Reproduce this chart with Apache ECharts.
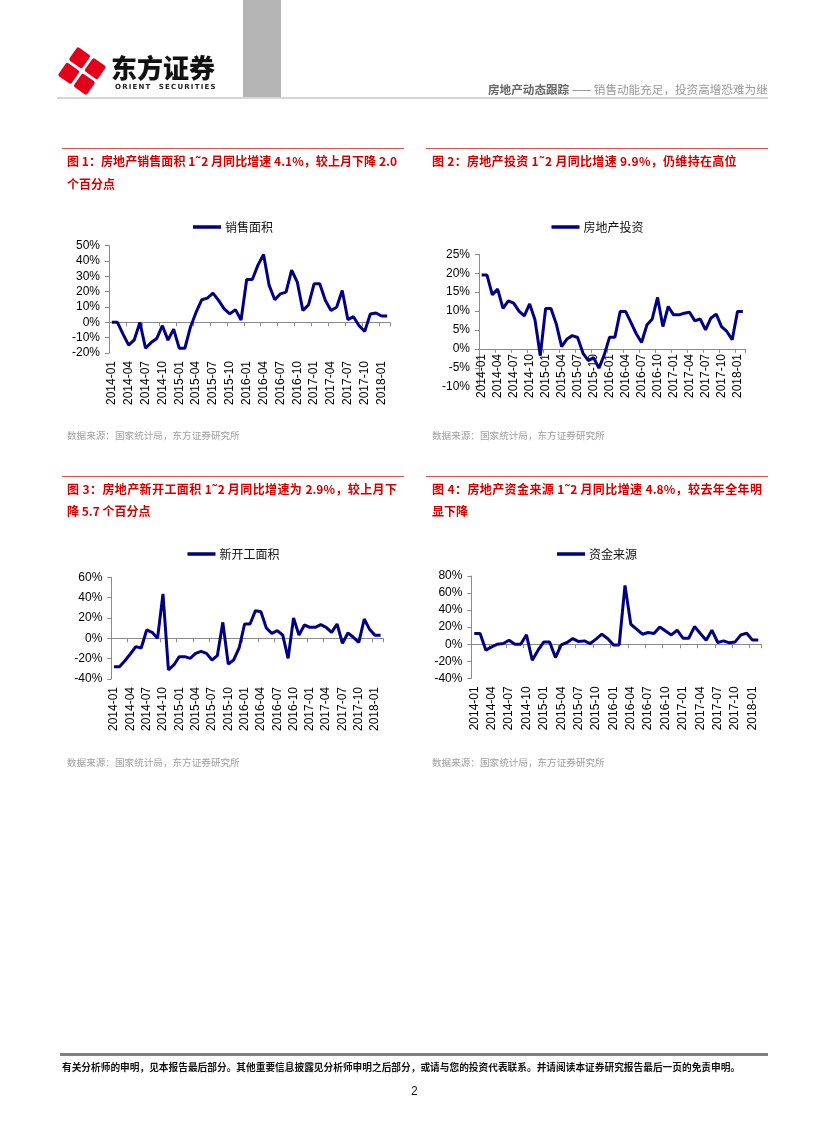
<!DOCTYPE html>
<html><head><meta charset="utf-8">
<script src="https://cdn.jsdelivr.net/npm/echarts@6/dist/echarts.min.js"></script>
<style>
html,body{margin:0;padding:0;background:#fff;}
#page{position:relative;width:827px;height:1122px;overflow:hidden;font-family:"Noto Sans CJK SC","Noto Sans",sans-serif;}
#chart{position:absolute;left:0;top:0;width:827px;height:1122px;}
.abs{position:absolute;white-space:nowrap;z-index:2;}
.ttl{color:#d40000;font-weight:bold;font-size:12px;line-height:14px;}
.just{width:330px;text-align:justify;text-align-last:justify;}
.src{color:#a0a0a0;font-size:9.6px;line-height:11px;}
.redline{position:absolute;height:1px;background:#d9534f;z-index:2;}
</style></head>
<body><div id="page">
<div id="chart"></div>
<!-- header -->
<svg class="abs" style="left:56px;top:46px" width="52" height="50" viewBox="0 0 52 50">
  <g fill="#e3001b" transform="translate(26,25) rotate(35)">
    <rect x="-17.5" y="-17.5" width="16" height="16" rx="2"/>
    <rect x="1.5" y="-17.5" width="16" height="16" rx="2"/>
    <rect x="-17.5" y="1.5" width="16" height="16" rx="2"/>
    <rect x="1.5" y="1.5" width="16" height="16" rx="2"/>
  </g>
</svg>
<div class="abs" style="left:111px;top:52px;font-size:26px;font-weight:900;color:#111;line-height:30px;">东方证券</div>
<div class="abs" style="left:115px;top:83px;font-size:7px;font-weight:bold;color:#222;letter-spacing:1.2px;font-family:'DejaVu Sans',sans-serif;line-height:8px;">ORIENT&nbsp; SECURITIES</div>
<div class="abs" style="left:243px;top:0;width:38px;height:97px;background:#b4b4b4;"></div>
<div class="abs" style="left:57px;top:97px;width:711px;height:2px;background:#d6d6d6;"></div>
<div class="abs" style="left:488px;top:82px;font-size:11.6px;line-height:14px;color:#777;"><b style="color:#666">房地产动态跟踪</b> —— <span style="color:#999">销售动能充足，投资高增恐难为继</span></div>

<!-- titles -->
<div class="redline" style="left:62px;top:148px;width:342px;"></div>
<div class="redline" style="left:426px;top:148px;width:342px;"></div>
<div class="abs ttl just" style="left:67px;top:154px;">图 1：房地产销售面积 1˜2 月同比增速 4.1%，较上月下降 2.0</div>
<div class="abs ttl" style="left:67px;top:177px;">个百分点</div>
<div class="abs ttl" style="left:432px;top:154px;letter-spacing:0.3px;">图 2：房地产投资 1˜2 月同比增速 9.9%，仍维持在高位</div>

<div class="redline" style="left:62px;top:476px;width:342px;"></div>
<div class="redline" style="left:426px;top:476px;width:342px;"></div>
<div class="abs ttl just" style="left:67px;top:482px;">图 3：房地产新开工面积 1˜2 月同比增速为 2.9%，较上月下</div>
<div class="abs ttl" style="left:67px;top:504px;">降 5.7 个百分点</div>
<div class="abs ttl just" style="left:432px;top:482px;">图 4：房地产资金来源 1˜2 月同比增速 4.8%，较去年全年明</div>
<div class="abs ttl" style="left:432px;top:504px;">显下降</div>

<div class="abs src" style="left:67px;top:430px;">数据来源：国家统计局，东方证券研究所</div>
<div class="abs src" style="left:432px;top:430px;">数据来源：国家统计局，东方证券研究所</div>
<div class="abs src" style="left:67px;top:757px;">数据来源：国家统计局，东方证券研究所</div>
<div class="abs src" style="left:432px;top:757px;">数据来源：国家统计局，东方证券研究所</div>

<!-- footer -->
<div class="abs" style="left:60px;top:1053px;width:708px;height:3px;background:#808080;"></div>
<div class="abs" style="left:62px;top:1061px;font-size:9.7px;font-weight:bold;color:#111;line-height:12px;">有关分析师的申明，见本报告最后部分。其他重要信息披露见分析师申明之后部分，或请与您的投资代表联系。并请阅读本证券研究报告最后一页的免责申明。</div>
<div class="abs" style="left:411px;top:1084px;font-size:12px;color:#111;font-family:'Liberation Sans',sans-serif;">2</div>
</div>
<script>
var months = ["2014-01","2014-02","2014-03","2014-04","2014-05","2014-06","2014-07","2014-08","2014-09","2014-10","2014-11","2014-12",
"2015-01","2015-02","2015-03","2015-04","2015-05","2015-06","2015-07","2015-08","2015-09","2015-10","2015-11","2015-12",
"2016-01","2016-02","2016-03","2016-04","2016-05","2016-06","2016-07","2016-08","2016-09","2016-10","2016-11","2016-12",
"2017-01","2017-02","2017-03","2017-04","2017-05","2017-06","2017-07","2017-08","2017-09","2017-10","2017-11","2017-12",
"2018-01","2018-02"];

var salesArea = [0,0,-7.7,-14.9,-11.4,0,-16.9,-13.2,-10.5,-2.2,-11.6,-4.4,
-16.9,-16.9,-3,6.6,14.7,15.8,19.1,14.3,8.8,5.5,8.3,1.5,
27.9,27.9,37.3,44.3,24.1,14.7,18.6,19.7,34.0,26.3,7.7,11.4,
25.2,25.2,14.3,7.7,9.9,20.8,1.8,3.7,-2.2,-5.9,5.4,6.1,
4.1,4.1];

var investment = [19.5,19.5,14.3,15.8,10.7,12.7,12.1,10.0,8.7,11.9,7.7,-1.8,
10.7,10.7,6.6,0.6,2.6,3.5,3.0,-1.1,-3.1,-2.3,-5.1,-1.6,
3.1,3.1,9.9,9.9,7.0,4.0,1.7,6.3,7.9,13.6,5.9,11.2,
9.0,9.0,9.4,9.7,7.4,7.9,5.0,8.1,9.2,5.9,4.6,2.4,
9.9,9.9];

var newStarts = [-27.9,-27.9,-22,-15.4,-8.2,-9.5,8.2,5.9,0,43.6,-31.1,-26.2,
-18,-18,-19.7,-14.8,-12.8,-14.8,-21.3,-17,15.7,-25.2,-21.3,-9.5,
14.1,14.1,27.2,26.2,10.2,4.9,7.5,3.3,-19.7,20,3.3,13.1,
10.8,10.8,13.4,10.8,5.9,14.1,-4.9,5.2,1.0,-3.9,19,8.6,
2.9,2.9];

var funding = [12.5,12.5,-7,-3.1,0,0.8,4.7,0,0,10.9,-18.8,-7,
2.7,2.7,-15.6,-0.8,2,6.6,3.1,3.9,0.8,5.9,11.7,6.6,
-0.8,-0.8,69,23.4,17.6,11.7,13.7,12.5,20.3,15.6,10.9,16.4,
7.0,7.0,20.7,12.5,4.7,16.4,2,3.9,1.6,2.7,10.9,12.9,
4.8,4.8];

var seriesNames = ["销售面积","房地产投资","新开工面积","资金来源"];
var yMin = [-20,-10,-40,-40], yMax = [50,25,60,80], yStep = [10,5,20,20];

var grids = [
  {left:109, top:245.7, width:281, height:107.3},
  {left:479, top:254.3, width:266.5, height:132.4},
  {left:111.3, top:577.3, width:272, height:101.7},
  {left:471.4, top:576, width:289.8, height:102.3}
];
// label axis: offset (negative = moved up into the plot) and margin
var labelOffset = [0, -37.7, 0, 0], labelMargin = [8, 5, 8, 8];
var legendPos = [{left:193, top:220},{left:551.5, top:220},{left:187.5, top:547},{left:557, top:547}];
var allData = [salesArea, investment, newStarts, funding];

var axisColor = '#8a8a8a';
var labelFont = {fontFamily:'Liberation Sans, Arial, sans-serif', fontSize:12, color:'#000'};

var xAxes = [], yAxes = [], series = [], legends = [];
for (var g=0; g<4; g++) {
  yAxes.push({
    type:'value', gridIndex:g, min:yMin[g], max:yMax[g], interval:yStep[g],
    axisLine:{show:true, lineStyle:{color:axisColor, width:1}},
    axisTick:{show:true, length:4, lineStyle:{color:axisColor}},
    splitLine:{show:false},
    axisLabel:Object.assign({margin:9, formatter:'{value}%'}, labelFont)
  });
  xAxes.push({
    type:'category', gridIndex:g, data:months, boundaryGap:true,
    axisLine:{show:true, onZero:true, lineStyle:{color:axisColor, width:1}},
    axisTick:{show:true, length:4, interval:2, lineStyle:{color:axisColor}},
    splitLine:{show:false},
    axisLabel:{show:false}
  });
  var xIdx = xAxes.length-1;
  xAxes.push({
    type:'category', gridIndex:g, data:months, boundaryGap:true, position:'bottom', offset:labelOffset[g],
    axisLine:{show:false, onZero:false}, axisTick:{show:false}, splitLine:{show:false},
    axisLabel:Object.assign({show:true, rotate:90, interval:2, margin:labelMargin[g]}, labelFont)
  });
  series.push({
    name:seriesNames[g], type:'line', xAxisIndex:xIdx, yAxisIndex:g, data:allData[g],
    symbol:'none', lineStyle:{color:'#000080', width:3}, itemStyle:{color:'#000080'}
  });
  legends.push({
    data:[{name:seriesNames[g], icon:'rect'}], left:legendPos[g].left, top:legendPos[g].top,
    padding:0, itemWidth:28, itemHeight:3.5, itemGap:4,
    textStyle:{fontFamily:'Noto Sans CJK SC, sans-serif', fontSize:12, color:'#111', lineHeight:14, padding:[0,0,0,-1]}
  });
}
var chart = echarts.init(document.getElementById('chart'), null, {renderer:'canvas'});
chart.setOption({
  animation:false,
  grid:grids.map(function(r){return Object.assign({containLabel:false}, r);}),
  xAxis:xAxes, yAxis:yAxes, series:series, legend:legends
});
</script>
</body></html>
